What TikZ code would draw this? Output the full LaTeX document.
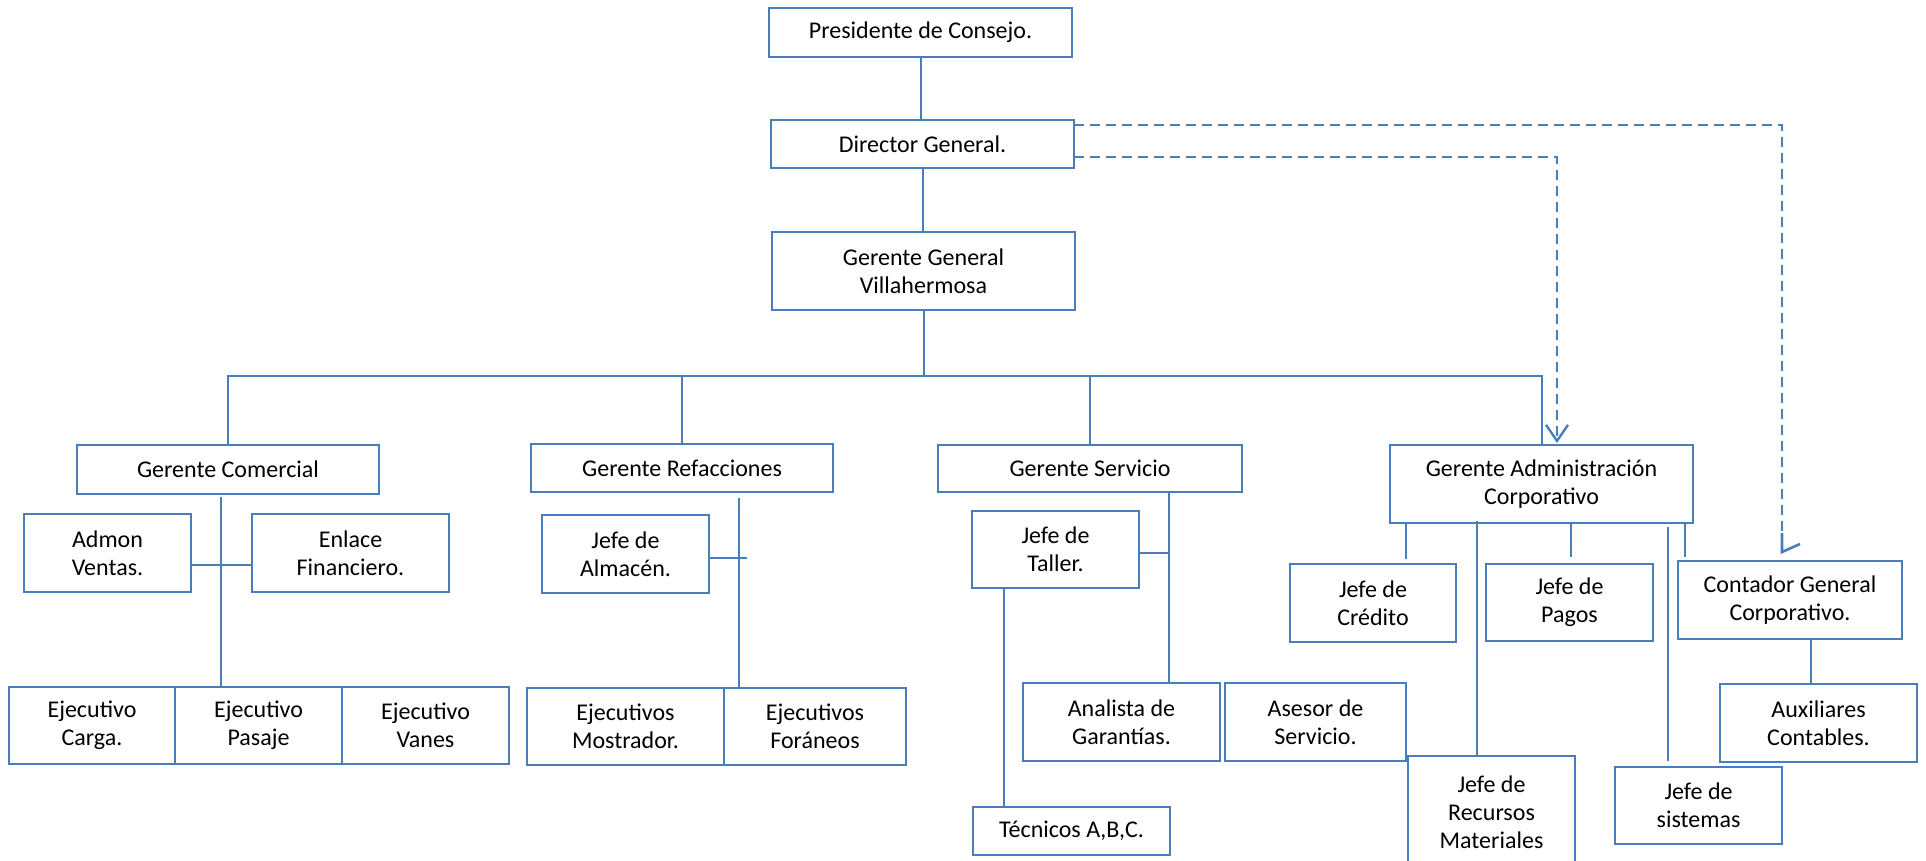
\documentclass[tikz,border=0pt]{standalone}
\usepackage{fontspec}
\setmainfont{Carlito}
\usetikzlibrary{arrows.meta,calc}
\definecolor{ln}{RGB}{74,126,187}
\begin{document}
\begin{tikzpicture}[x=0.5pt,y=-0.5pt,
  box/.style={draw=ln, line width=1pt, inner sep=0pt, outer sep=0pt, align=center, font=\fontsize{12}{14}\selectfont, fill=white},
  conn/.style={draw=ln, line width=1pt},
  dsh/.style={draw=ln, line width=1.3pt, dash pattern=on 5pt off 3pt},
  tipv/.style={-{Straight Barb[length=8pt,width=11pt,line width=1.2pt]}}]
\useasboundingbox (0,0) rectangle (1926,861);
\clip (0,0) rectangle (1926,861);
\newcommand\orgbox[6]{\node[box, minimum width={(#4-#2)*0.5pt}, minimum height={(#5-#3)*0.5pt}] (#1) at ({(#2+#4)/2},{(#3+#5)/2}) {#6};}
\orgbox{pres}{769}{8}{1072}{57}{Presidente de Consejo.}
\orgbox{dir}{771}{120}{1074}{168}{Director General.}
\orgbox{gg}{772}{232}{1075}{310}{Gerente General\\Villahermosa}
\orgbox{gcom}{77}{445}{379}{494}{Gerente Comercial}
\orgbox{gref}{531}{444}{833}{492}{Gerente Refacciones}
\orgbox{gser}{938}{445}{1242}{492}{Gerente Servicio}
\orgbox{gadm}{1390}{445}{1693}{523}{Gerente Administración\\Corporativo}
\orgbox{admon}{24}{514}{191}{592}{Admon\\Ventas.}
\orgbox{enlace}{252}{514}{449}{592}{Enlace\\Financiero.}
\orgbox{ecar}{9}{687}{175}{764}{Ejecutivo\\Carga.}
\orgbox{epas}{175}{687}{342}{764}{Ejecutivo\\Pasaje}
\orgbox{evan}{342}{687}{509}{764}{Ejecutivo\\Vanes}
\orgbox{jalm}{542}{515}{709}{593}{Jefe de\\Almacén.}
\orgbox{emos}{527}{688}{724}{765}{Ejecutivos\\Mostrador.}
\orgbox{efor}{724}{688}{906}{765}{Ejecutivos\\Foráneos}
\orgbox{jtal}{972}{511}{1139}{588}{Jefe de\\Taller.}
\orgbox{anal}{1023}{683}{1220}{761}{Analista de\\Garantías.}
\orgbox{ases}{1225}{683}{1406}{761}{Asesor de\\Servicio.}
\orgbox{tec}{973}{807}{1170}{855}{Técnicos A,B,C.}
\orgbox{jcre}{1290}{564}{1456}{642}{Jefe de\\Crédito}
\orgbox{jpag}{1486}{564}{1653}{641}{Jefe de\\Pagos}
\orgbox{jrec}{1408}{756}{1575}{868}{Jefe de\\Recursos\\Materiales}
\orgbox{jsis}{1615}{767}{1782}{844}{Jefe de\\sistemas}
\orgbox{cont}{1678}{561}{1902}{639}{Contador General\\Corporativo.}
\orgbox{aux}{1720}{684}{1917}{762}{Auxiliares\\Contables.}
% top chain
\coordinate (busy) at (0,376);
\draw[conn] (pres.south) -- (pres.south |- dir.north);
\draw[conn] (dir.south) -- (dir.south |- gg.north);
\draw[conn] (gg.south) -- (gg.south |- busy);
\draw[conn] (gcom.north) -- (gcom.north |- busy) -- (gadm.north |- busy) -- (gadm.north);
\draw[conn] (gref.north) -- (gref.north |- busy);
\draw[conn] (gser.north) -- (gser.north |- busy);
% dashed
\coordinate (ctip) at ($(cont.north)+(-8,-9)$);
\coordinate (cend) at ($(cont.north)+(-8,-28)$);
\draw[dsh] ($(dir.east)+(0,-19)$) -| (cend);
\draw[conn, line width=1.3pt, line join=miter] (cend) -- (ctip) -- ++(18,-8);
\draw[dsh, tipv] ($(dir.east)+(0,13)$) -| ($(gadm.north)+(15.5,-2)$);
% comercial
\coordinate (x1) at (221,0);
\draw[conn] ($(gcom.south -| x1)+(0,3)$) -- (epas.north -| x1);
\draw[conn] ($(admon.east)+(0,12)$) -- ($(enlace.west)+(0,12)$);
% refacciones
\coordinate (x2) at (739,0);
\draw[conn] ($(gref.south -| x2)+(0,6)$) -- (efor.north -| x2);
\draw[conn] ($(jalm.east)+(0,4)$) -- ++(38,0);
% servicio
\coordinate (x3) at (1169,0);
\draw[conn] (gser.south -| x3) -- (anal.north -| x3);
\draw[conn] ($(jtal.east)+(0,3.5)$) -- ($(jtal.east -| x3)+(0,3.5)$);
\coordinate (x4) at (1004,0);
\draw[conn] (jtal.south -| x4) -- (tec.north -| x4);
% administracion
\coordinate (xa) at (1406,0);
\coordinate (xb) at (1477,0);
\coordinate (xc) at (1571,0);
\coordinate (xd) at (1668,0);
\coordinate (xe) at (1685,0);
\coordinate (xf) at (1811,0);
\draw[conn, shorten >=2.5pt] (gadm.south -| xa) -- (jcre.north -| xa);
\draw[conn] ($(gadm.south -| xb)+(0,-2)$) -- (jrec.north -| xb);
\draw[conn, shorten >=3.5pt] (gadm.south -| xc) -- (jpag.north -| xc);
\draw[conn] ($(gadm.south -| xd)+(0,4)$) -- ($(jsis.north -| xd)+(0,-6)$);
\draw[conn, shorten >=2pt] (gadm.south -| xe) -- (cont.north -| xe);
\draw[conn] (cont.south -| xf) -- (aux.north -| xf);
\end{tikzpicture}
\end{document}
